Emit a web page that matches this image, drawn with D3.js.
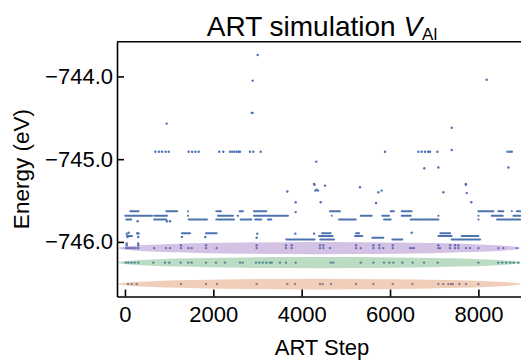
<!DOCTYPE html>
<html lang="en">
<head>
<meta charset="UTF-8">
<title>ART simulation V_Al</title>
<style>
  body { margin: 0; background: #fff; }
  svg text { font-family: "Liberation Sans", Arial, sans-serif; fill: #000; }
</style>
</head>
<body>
<svg width="521" height="360"></svg>
<script src="https://d3js.org/d3.v7.min.js"></script>
<script>
// --- data (step, energy in eV) ---

// scattered minima that sit on their own
var loosePoints = [
    [3004, -743.74], [2890, -744.05], [2870, -744.44], [2890, -744.44], [944, -744.57],
    [8188, -744.04], [7396, -744.62], [7396, -744.89],
    [4331, -745.03], [6776, -745.11], [7094, -745.10], [8679, -745.10],
    [3675, -745.39], [4280, -745.30], [4290, -745.31], [4310, -745.38], [4340, -745.37],
    [4370, -745.38], [4528, -745.32], [5320, -745.34], [5735, -745.40], [5810, -745.38],
    [7207, -745.40], [7713, -745.30], [7720, -745.31], [7736, -745.41],
    [3864, -745.52], [4430, -745.52], [5683, -745.53], [7840, -745.52],
    [3864, -745.64], [287, -745.75], [950, -745.75], [1020, -745.75],
    [83, -745.89], [2996, -745.90], [3856, -745.90], [4279, -745.90], [6490, -745.89],
    [1290, -745.94], [1818, -745.94], [2981, -745.95],
    [40, -745.90], [60, -745.94], [300, -745.90], [300, -745.94], [40, -746.02], [300, -746.02]
];

// the -744.91 eV plateau
var plateauE = -744.91;
var plateauSteps = [690, 770, 840, 920, 990, 1442, 1520, 1595, 1670, 2135, 2226, 2380, 2430,
    2480, 2530, 2580, 2604, 2830, 2905, 3072, 5886, 6641, 6717, 6790, 6860, 6905, 7071,
    8660, 8710, 8755];

// dense runs of visits: [first step, last step, energy]
var runs = [
    [120, 310, -745.63], [935, 1190, -745.63], [1426, 1426, -745.63], [2067, 2067, -745.63],
    [2105, 2173, -745.63], [2596, 2671, -745.63], [2920, 3199, -745.63], [4641, 4868, -745.63],
    [6015, 6090, -745.63], [6264, 6490, -745.63], [8000, 8339, -745.63], [8452, 8565, -745.63],
    [8755, 8755, -745.63], [8868, 8943, -745.63],
    [7, 611, -745.685], [663, 951, -745.685], [1426, 1426, -745.685], [2105, 2445, -745.685],
    [2550, 2560, -745.685], [2920, 3690, -745.685], [4679, 4679, -745.685], [5336, 5599, -745.685],
    [5826, 5977, -745.685], [6264, 6468, -745.685], [7094, 7094, -745.685], [8000, 8000, -745.685],
    [8302, 8565, -745.685], [8792, 8943, -745.685],
    [30, 158, -745.73], [663, 935, -745.73], [1442, 1856, -745.73], [2067, 2067, -745.73],
    [2105, 2468, -745.73], [2619, 2859, -745.73], [2950, 3086, -745.73], [3237, 3313, -745.73],
    [4845, 5223, -745.73], [5864, 6015, -745.73], [6468, 7094, -745.73], [8000, 8000, -745.73],
    [8422, 8943, -745.73],
    [270, 310, -745.895], [1290, 1472, -745.895], [1834, 2075, -745.895], [4460, 4657, -745.895],
    [5230, 5300, -745.895], [7140, 7360, -745.895],
    [45, 158, -745.93], [4392, 4700, -745.93], [5207, 5373, -745.93], [7094, 7396, -745.93],
    [7622, 8000, -745.93], [5599, 5864, -745.95],
    [3652, 4294, -745.97], [4420, 4732, -745.97], [6052, 6279, -745.97], [7396, 8037, -745.97]
];

// the three lowest basins (highlighted)
var purpleE = -746.075;
var purpleSteps = [23, 60, 100, 140, 190, 240, 290, 302, 663, 928, 1019, 1268, 1434, 1510, 1834,
    2075, 2981, 3645, 3773, 4415, 4490, 4641, 5230, 5336, 5622, 5758, 5848, 6061, 6453, 6500,
    6543, 7094, 7132, 7358, 7471, 7546, 7720, 7811, 8000, 8452, 8565, 8868];
var purpleUpperE = -746.04;
var purpleUpperSteps = [40, 302, 1268, 1834, 2981, 3645, 3773, 4415, 4490, 5230, 5622, 5758,
    6061, 7094, 7358, 7471, 7546];
var greenE = -746.25;
var greenSteps = [23, 80, 150, 220, 302, 641, 906, 1003, 1261, 1434, 1510, 1834, 2060, 2264,
    2604, 2664, 2966, 3040, 3120, 3200, 3280, 3321, 3509, 3645, 3864, 4657, 4717, 5336, 5622,
    5864, 5984, 6075, 6279, 6514, 6769, 7080, 8000, 8452, 8540, 8630, 8720, 8800, 8905];
var orangeE = -746.51;
var orangeSteps = [68, 151, 264, 1268, 1834, 2083, 2981, 3675, 3849, 4415, 4476, 4664, 5230,
    5622, 6061, 6505, 7094, 7207, 7320, 7380, 7420, 7569, 7720, 8000];

// highlight ellipses
var bandCenters = [-746.075, -746.25, -746.51];
var bandHalfHeights = [0.073, 0.068, 0.064];
var bandColors = ["#9467bd", "#55a868", "#dd8452"];
var bandStepCenter = 4400;
var bandStepHalfWidth = 4560;

var xTicks = [0, 2000, 4000, 6000, 8000];
var yTicks = [-746, -745, -744];

// --- drawing ---
var svg = d3.select("svg");
var plotLeft = 117, plotRight = 527, plotTop = 41.7, plotBottom = 296.5;

var x = d3.scaleLinear().domain([-180, 9100]).range([plotLeft, plotRight]);
var y = d3.scaleLinear().domain([-746.66, -743.58]).range([plotBottom, plotTop]);

var blue = "#4c72b0";

// gather every single visit into one list
var dots = loosePoints.slice();
plateauSteps.forEach(function (s) { dots.push([s, plateauE]); });
purpleSteps.forEach(function (s) { dots.push([s, purpleE]); });
purpleUpperSteps.forEach(function (s) { dots.push([s, purpleUpperE]); });
greenSteps.forEach(function (s) { dots.push([s, greenE]); });
orangeSteps.forEach(function (s) { dots.push([s, orangeE]); });

// runs look like overlapping markers, so a slightly broken stroke
svg.append("g").selectAll("line")
    .data(runs)
    .enter().append("line")
    .attr("x1", function (d) { return x(d[0]); })
    .attr("x2", function (d) { return x(d[1]); })
    .attr("y1", function (d) { return y(d[2]); })
    .attr("y2", function (d) { return y(d[2]); })
    .attr("stroke", blue)
    .attr("stroke-width", 2)
    .attr("stroke-dasharray", "5,1")
    .attr("stroke-linecap", "round");

svg.append("g").selectAll("circle")
    .data(dots)
    .enter().append("circle")
    .attr("cx", function (d) { return x(d[0]); })
    .attr("cy", function (d) { return y(d[1]); })
    .attr("r", 1.2)
    .attr("fill", blue);

// ellipses go on top, semi transparent
svg.append("g").selectAll("ellipse")
    .data(bandCenters)
    .enter().append("ellipse")
    .attr("cx", x(bandStepCenter))
    .attr("cy", function (d) { return y(d); })
    .attr("rx", x(bandStepCenter + bandStepHalfWidth) - x(bandStepCenter))
    .attr("ry", function (d, i) { return y(d - bandHalfHeights[i]) - y(d); })
    .attr("fill", function (d, i) { return bandColors[i]; })
    .attr("fill-opacity", 0.4);

// axes
var yAxis = svg.append("g")
    .attr("transform", "translate(" + plotLeft + ",0)")
    .call(d3.axisLeft(y).tickValues(yTicks).tickFormat(d3.format(".1f"))
        .tickSize(-7).tickSizeOuter(0).tickPadding(4));

var xAxis = svg.append("g")
    .attr("transform", "translate(0," + plotBottom + ")")
    .call(d3.axisBottom(x).tickValues(xTicks).tickFormat(d3.format("d"))
        .tickSize(-7).tickSizeOuter(0).tickPadding(10));

[xAxis, yAxis].forEach(function (ax) {
    ax.select(".domain").attr("stroke", "#000").attr("stroke-width", 1.6);
    ax.selectAll(".tick line").attr("stroke", "#000").attr("stroke-width", 1.6);
    ax.selectAll(".tick text").attr("font-size", 22).attr("font-family", null);
});

// top spine
svg.append("line")
    .attr("x1", plotLeft).attr("x2", plotRight)
    .attr("y1", plotTop).attr("y2", plotTop)
    .attr("stroke", "#000").attr("stroke-width", 1.6);

// labels
var title = svg.append("text")
    .attr("x", (plotLeft + plotRight) / 2)
    .attr("y", 36)
    .attr("text-anchor", "middle")
    .attr("font-size", 28);
title.append("tspan").text("ART simulation ");
title.append("tspan").attr("font-style", "italic").text("V");
title.append("tspan").attr("font-size", 17).attr("dy", 3.5).text("Al");

svg.append("text")
    .attr("x", (plotLeft + plotRight) / 2)
    .attr("y", 355)
    .attr("text-anchor", "middle")
    .attr("font-size", 22)
    .text("ART Step");

svg.append("text")
    .attr("transform", "translate(29," + ((plotTop + plotBottom) / 2) + ") rotate(-90)")
    .attr("text-anchor", "middle")
    .attr("font-size", 22.5)
    .text("Energy (eV)");
</script>
</body>
</html>
